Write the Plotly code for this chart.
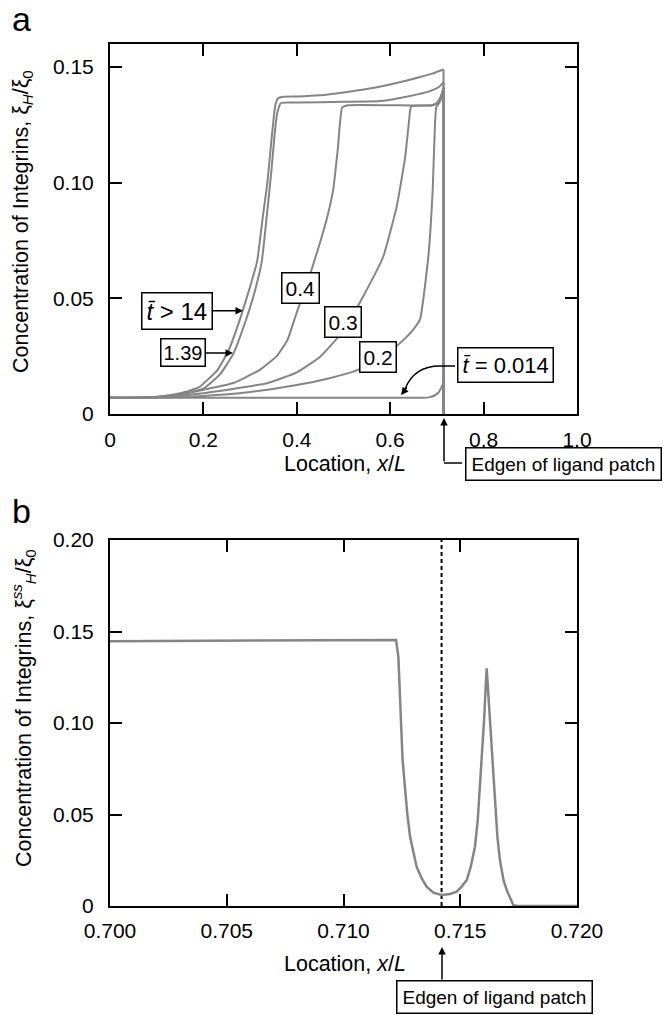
import plotly.graph_objects as go

# ---------------- data ----------------
# Panel a: integrin concentration profiles at several times
t14_x = [0, 0.05, 0.10, 0.15, 0.19, 0.23, 0.255, 0.28, 0.30, 0.315, 0.327, 0.337, 0.345, 0.350, 0.354, 0.360, 0.370, 0.40, 0.45, 0.50, 0.55, 0.60, 0.65, 0.69, 0.7142, 0.7142]
t14_y = [0.007, 0.007, 0.0075, 0.009, 0.0115, 0.019, 0.028, 0.042, 0.055, 0.066, 0.085, 0.100, 0.117, 0.127, 0.1335, 0.1365, 0.1372, 0.1373, 0.1378, 0.139, 0.1405, 0.1425, 0.145, 0.1472, 0.149, 0.0]

t139_x = [0, 0.05, 0.10, 0.15, 0.20, 0.235, 0.264, 0.29, 0.31, 0.325, 0.337, 0.346, 0.353, 0.358, 0.366, 0.40, 0.50, 0.58, 0.64, 0.685, 0.705, 0.7142, 0.7142]
t139_y = [0.007, 0.007, 0.0073, 0.0085, 0.011, 0.017, 0.026, 0.040, 0.053, 0.066, 0.088, 0.106, 0.122, 0.130, 0.1345, 0.1347, 0.135, 0.1353, 0.1374, 0.1396, 0.1415, 0.1435, 0.0]

t04_x = [0, 0.05, 0.10, 0.15, 0.20, 0.264, 0.32, 0.357, 0.38, 0.40, 0.42, 0.448, 0.465, 0.478, 0.488, 0.497, 0.51, 0.60, 0.69, 0.70, 0.708, 0.7142, 0.7142]
t04_y = [0.007, 0.007, 0.0073, 0.0085, 0.0105, 0.0134, 0.019, 0.025, 0.032, 0.044, 0.055, 0.073, 0.085, 0.097, 0.115, 0.1325, 0.1335, 0.1335, 0.1335, 0.1345, 0.137, 0.141, 0.0]

t03_x = [0, 0.05, 0.10, 0.20, 0.336, 0.40, 0.45, 0.50, 0.542, 0.585, 0.614, 0.632, 0.640, 0.645, 0.69, 0.70, 0.708, 0.7142, 0.7142]
t03_y = [0.007, 0.007, 0.0072, 0.009, 0.0133, 0.018, 0.0248, 0.036, 0.0508, 0.068, 0.0898, 0.111, 0.126, 0.133, 0.1335, 0.1345, 0.137, 0.141, 0.0]

t02_x = [0, 0.10, 0.20, 0.30, 0.40, 0.47, 0.521, 0.57, 0.60, 0.6245, 0.649, 0.664, 0.6816, 0.691, 0.696, 0.699, 0.705, 0.710, 0.7142, 0.7142]
t02_y = [0.007, 0.0071, 0.0078, 0.0095, 0.0125, 0.0155, 0.0183, 0.0225, 0.027, 0.0313, 0.0364, 0.041, 0.068, 0.097, 0.126, 0.133, 0.1345, 0.137, 0.141, 0.0]

t0014_x = [0, 0.20, 0.40, 0.60, 0.67, 0.685, 0.695, 0.703, 0.709, 0.712, 0.7142, 0.7142]
t0014_y = [0.007, 0.007, 0.007, 0.007, 0.007, 0.0073, 0.008, 0.0092, 0.0112, 0.0125, 0.013, 0.0]

a_xtick_vals = [0, 0.2, 0.4, 0.6, 0.8, 1.0]
a_xtick_text = ["0", "0.2", "0.4", "0.6", "0.8", "1.0"]
a_ytick_vals = [0, 0.05, 0.10, 0.15]
a_ytick_text = ["0", "0.05", "0.10", "0.15"]

# Panel b: steady-state profile near the ligand patch edge
b_x = [0.700, 0.705, 0.710, 0.71225, 0.71235, 0.71245, 0.71253, 0.71263, 0.71273, 0.71285, 0.71299, 0.71313,
       0.71335, 0.71356, 0.71385, 0.71420, 0.71456, 0.71485, 0.71506, 0.71528, 0.71545, 0.71563, 0.71575,
       0.71585, 0.71595, 0.71602, 0.71609, 0.71613, 0.71620, 0.71627, 0.71637, 0.71649, 0.71659, 0.71670,
       0.71685, 0.71699, 0.71713, 0.71727, 0.71742, 0.720]
b_y = [0.1447, 0.1450, 0.1453, 0.1454, 0.1362, 0.1016, 0.0798, 0.0652, 0.0506, 0.0379, 0.0288, 0.0215,
       0.0151, 0.0106, 0.0073, 0.0060, 0.0066, 0.0078, 0.0106, 0.0142, 0.0215, 0.0324, 0.0470,
       0.0652, 0.0834, 0.1016, 0.1199, 0.1299, 0.1162, 0.1016, 0.0798, 0.0561, 0.0379, 0.0251,
       0.0142, 0.0087, 0.0042, 0.0006, 0.0, 0.0]
edge_x = 0.7142

b_xtick_vals = [0.700, 0.705, 0.710, 0.715, 0.720]
b_xtick_text = ["0.700", "0.705", "0.710", "0.715", "0.720"]
b_ytick_vals = [0, 0.05, 0.10, 0.15, 0.20]
b_ytick_text = ["0", "0.05", "0.10", "0.15", "0.20"]

# ---------------- figure ----------------
W, H = 667, 1015
FONT = "Liberation Sans, Arial, Helvetica, sans-serif"
GRAY = "#858585"


def px(x):
    return x / W


def py(y):
    return 1 - y / H


fig = go.Figure()
for xs, ys in [(t0014_x, t0014_y), (t02_x, t02_y), (t03_x, t03_y), (t04_x, t04_y),
               (t139_x, t139_y), (t14_x, t14_y)]:
    # smooth profile inside the patch
    fig.add_trace(go.Scatter(x=xs[:-1], y=ys[:-1], xaxis="x", yaxis="y", mode="lines",
                             line=dict(color=GRAY, width=2, shape="spline", smoothing=0.4),
                             showlegend=False, hoverinfo="skip"))
    # sharp drop at the patch edge
    fig.add_trace(go.Scatter(x=xs[-2:], y=ys[-2:], xaxis="x", yaxis="y", mode="lines",
                             line=dict(color=GRAY, width=2), showlegend=False, hoverinfo="skip"))

fig.add_trace(go.Scatter(x=[edge_x, edge_x], y=[b_ytick_vals[0], b_ytick_vals[-1]], xaxis="x2", yaxis="y2",
                         mode="lines", line=dict(color="black", width=2, dash="4px,3px"),
                         showlegend=False, hoverinfo="skip"))
fig.add_trace(go.Scatter(x=b_x, y=b_y, xaxis="x2", yaxis="y2", mode="lines",
                         line=dict(color=GRAY, width=2.5), showlegend=False, hoverinfo="skip"))

axis_common = dict(showline=True, linecolor="black", linewidth=2, mirror="ticks", ticks="inside",
                   ticklen=12, tickwidth=2, tickcolor="black", showgrid=False, zeroline=False,
                   tickfont=dict(size=21, color="black", family=FONT), fixedrange=True, automargin=False)

fig.update_layout(
    width=W, height=H, margin=dict(l=0, r=0, t=0, b=0, autoexpand=False),
    plot_bgcolor="white", paper_bgcolor="white",
    font=dict(family=FONT, color="black"),
    xaxis=dict(domain=[px(110), px(577)], range=[0, 1.0], anchor="y", tickmode="array",
               tickvals=a_xtick_vals, ticktext=a_xtick_text, ticklabelstandoff=6, **axis_common),
    yaxis=dict(domain=[py(414), py(44)], range=[0, 0.16], anchor="x", tickmode="array",
               tickvals=a_ytick_vals, ticktext=a_ytick_text, ticklabelstandoff=10, **axis_common),
    xaxis2=dict(domain=[px(110), px(577)], range=[0.700, 0.720], anchor="y2", tickmode="array",
                tickvals=b_xtick_vals, ticktext=b_xtick_text, ticklabelstandoff=5, **axis_common),
    yaxis2=dict(domain=[py(906), py(540)], range=[0, 0.20], anchor="x2", tickmode="array",
                tickvals=b_ytick_vals, ticktext=b_ytick_text, ticklabelstandoff=10, **axis_common),
)

C = dict(xanchor="center", yanchor="middle")
ann = []
# panel letters
ann.append(dict(text="a", x=px(10), y=py(19), xref="paper", yref="paper", xanchor="left", yanchor="middle",
                showarrow=False, font=dict(size=34)))
ann.append(dict(text="b", x=px(10), y=py(511), xref="paper", yref="paper", xanchor="left", yanchor="middle",
                showarrow=False, font=dict(size=34)))
# axis titles
ann.append(dict(text="Concentration of Integrins, ξ<sub><i>H</i></sub>/ξ<sub>0</sub>", x=px(23), y=py(222),
                xref="paper", yref="paper", textangle=-90, showarrow=False, font=dict(size=21.5), **C))
ann.append(dict(text="Concentration of Integrins, ξ<sup><i>ss</i></sup><sub><i>H</i></sub>/ξ<sub>0</sub>",
                x=px(23), y=py(708), xref="paper", yref="paper", textangle=-90, showarrow=False,
                font=dict(size=21.5), **C))
ann.append(dict(text="Location, <i>x</i>/<i>L</i>", x=px(345), y=py(464), xref="paper", yref="paper",
                showarrow=False, font=dict(size=21.5), **C))
ann.append(dict(text="Location, <i>x</i>/<i>L</i>", x=px(345), y=py(964), xref="paper", yref="paper",
                showarrow=False, font=dict(size=21.5), **C))

box = dict(bordercolor="black", borderwidth=1.5, bgcolor="white")
# labelled boxes with arrows (panel a)
ann.append(dict(text="<i>t̄</i> > 14", x=0.2848, y=0.0447, ax=0.1424, ay=0.0447, axref="x", ayref="y",
                xref="x", yref="y", showarrow=True, arrowhead=2, arrowsize=1, arrowwidth=1.5,
                arrowcolor="black", borderpad=4, font=dict(size=24), **box, **C))
ann.append(dict(text="1.39", x=0.2634, y=0.0264, ax=0.156, ay=0.0264, axref="x", ayref="y",
                xref="x", yref="y", showarrow=True, arrowhead=2, arrowsize=1, arrowwidth=1.5,
                arrowcolor="black", borderpad=2, font=dict(size=20), **box, **C))
for t, xx, yy in [("0.4", 0.4086, 0.0544), ("0.3", 0.498, 0.040), ("0.2", 0.5746, 0.0248)]:
    ann.append(dict(text=t, x=xx, y=yy, xref="x", yref="y", showarrow=False, borderpad=3,
                    font=dict(size=21), **box, **C))
ann.append(dict(text="<i>t̄</i> = 0.014", x=0.8476, y=0.0210, xref="x", yref="y", showarrow=False,
                borderpad=4, font=dict(size=22), **box, **C))
# curved arrow head for t = 0.014
ann.append(dict(text="", x=px(401), y=py(395), xref="paper", yref="paper", ax=7, ay=-9, showarrow=True,
                arrowhead=2, arrowsize=1, arrowwidth=1.5, arrowcolor="black"))

# edge of ligand patch boxes
ann.append(dict(text="Edgen of ligand patch", x=px(563), y=py(464), xref="paper", yref="paper",
                showarrow=False, borderpad=5, font=dict(size=19), **box, **C))
ann.append(dict(text="", x=px(444), y=py(418), xref="paper", yref="paper", ax=0, ay=45, showarrow=True,
                arrowhead=2, arrowsize=1, arrowwidth=1.5, arrowcolor="black"))
ann.append(dict(text="Edgen of ligand patch", x=px(494.5), y=py(997), xref="paper", yref="paper",
                showarrow=False, borderpad=5, font=dict(size=19), **box, **C))
ann.append(dict(text="", x=px(442), y=py(947), xref="paper", yref="paper", ax=0, ay=34, showarrow=True,
                arrowhead=2, arrowsize=1, arrowwidth=1.5, arrowcolor="black"))

fig.update_layout(annotations=ann)

shapes = []
shapes.append(dict(type="line", xref="paper", yref="paper", x0=px(444), y0=py(463), x1=px(462), y1=py(463),
                   line=dict(color="black", width=1.5)))
path = "M {:.4f},{:.4f} L {:.4f},{:.4f} Q {:.4f},{:.4f} {:.4f},{:.4f}".format(
    px(455), py(366), px(440), py(366), px(414), py(366), px(405), py(389))
shapes.append(dict(type="path", xref="paper", yref="paper", path=path, line=dict(color="black", width=1.5)))
fig.update_layout(shapes=shapes)

fig.write_html("out.html")
